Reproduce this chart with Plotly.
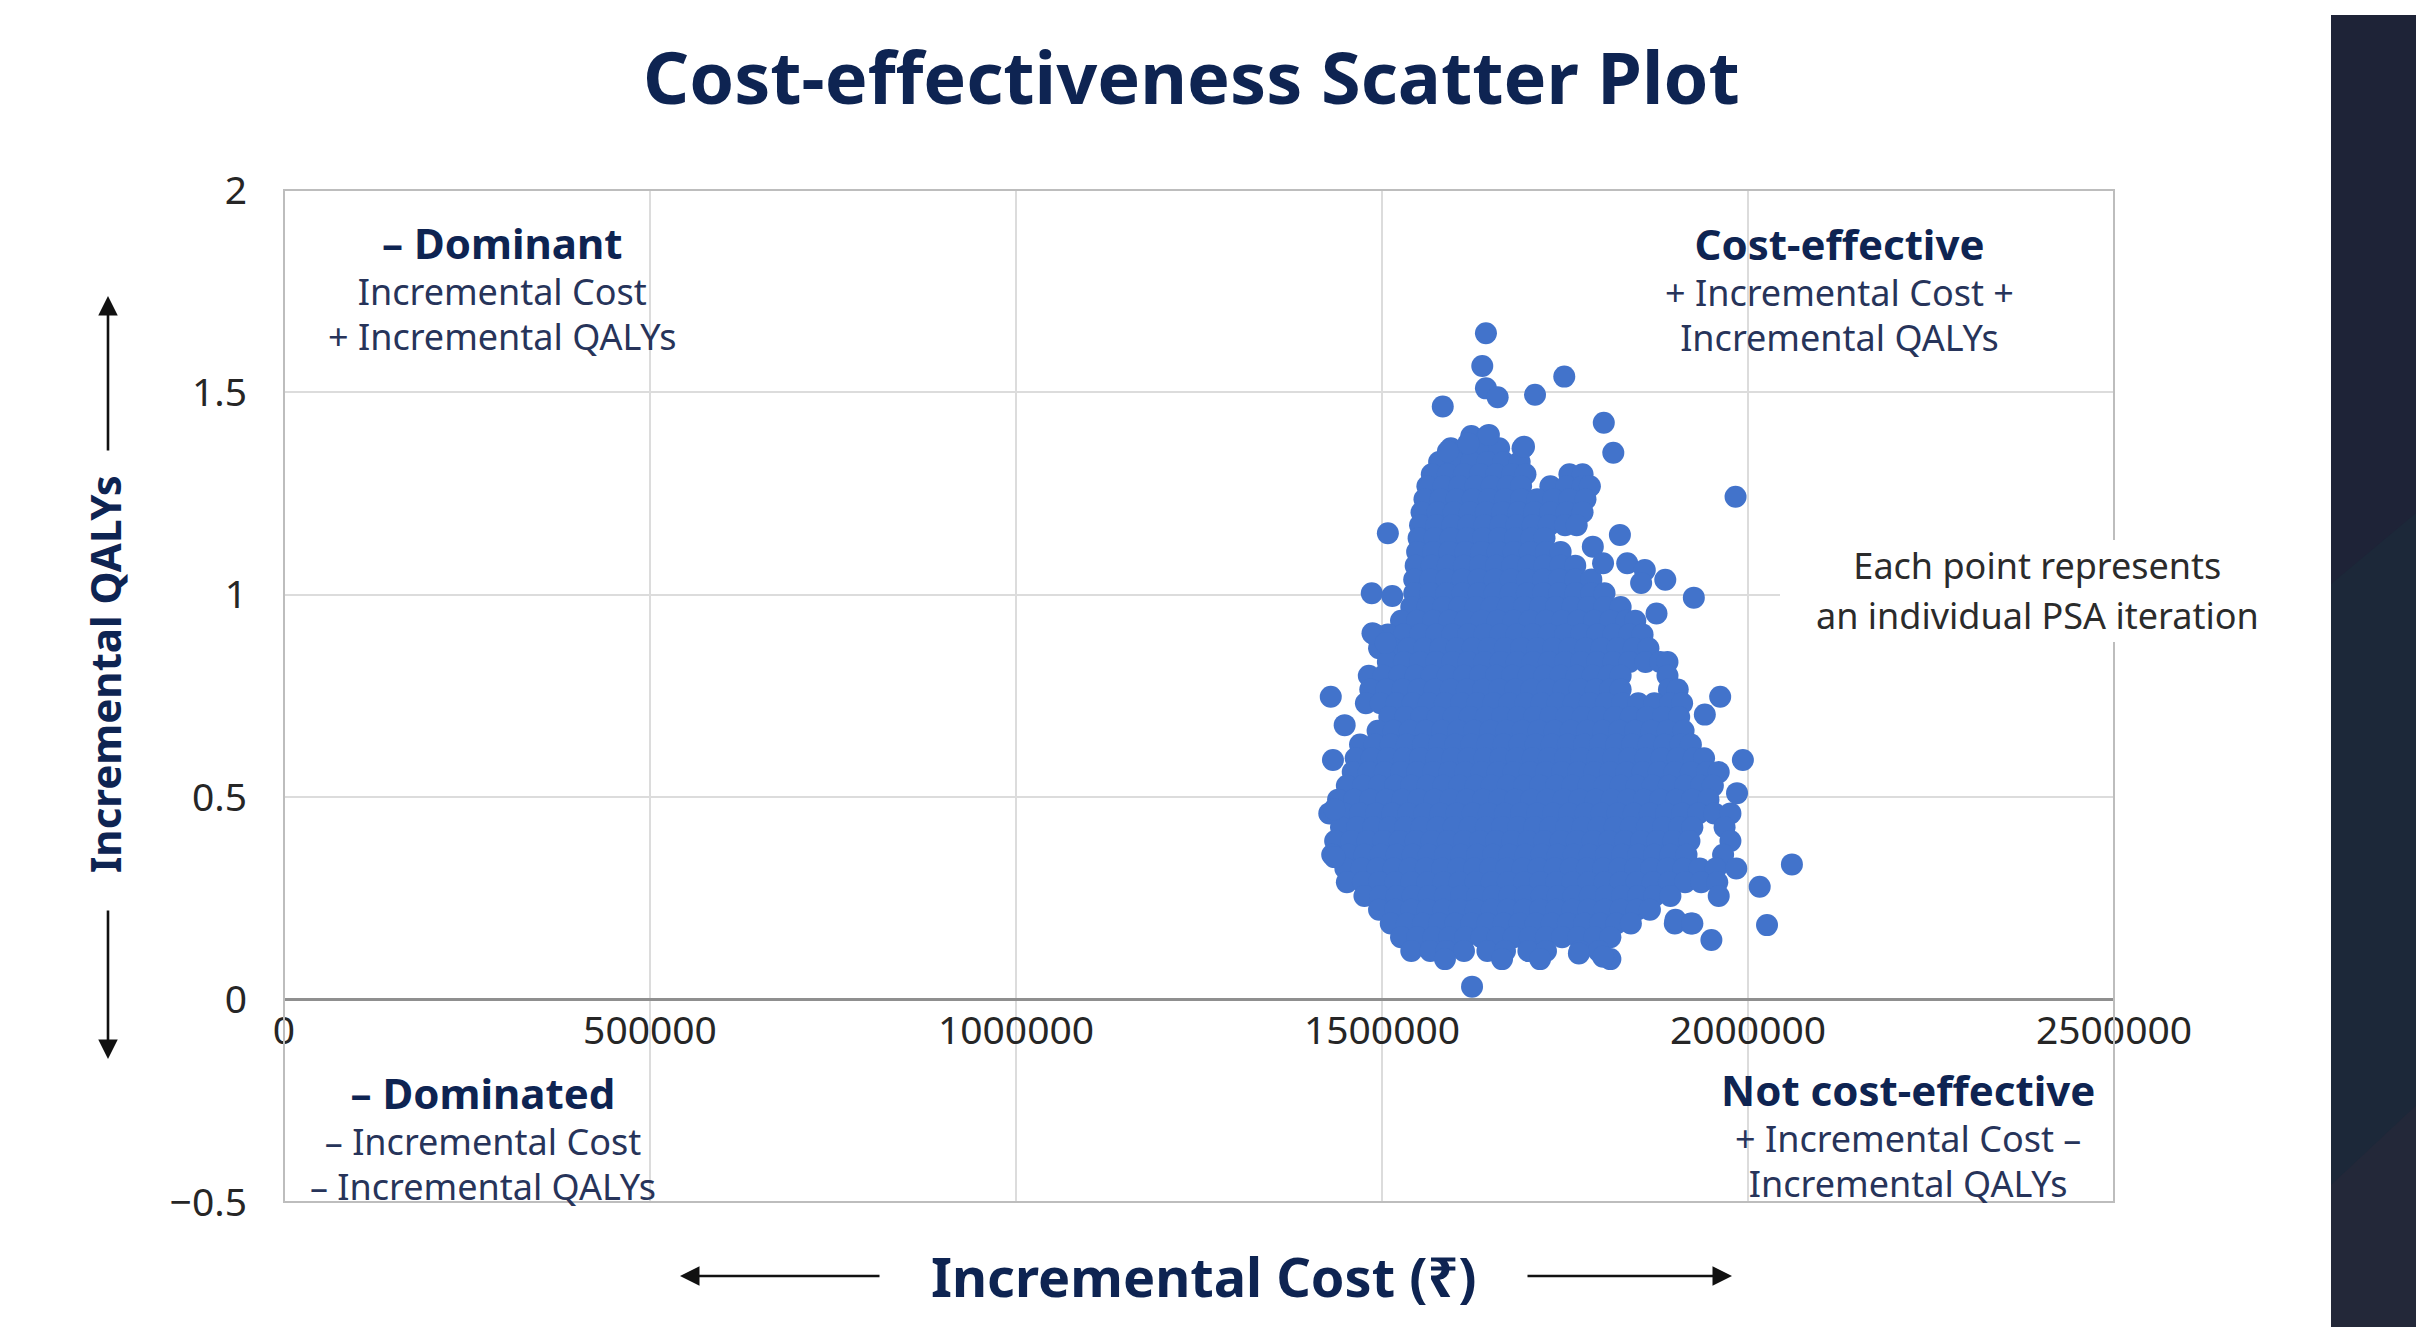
import plotly.graph_objects as go

# ---------------- data ----------------
# PSA iterations, read row by row off the cloud: incremental QALY level of each row
psa_qaly_levels = [
    1.392, 1.362, 1.328, 1.298, 1.268, 1.236, 1.204, 1.172, 1.140, 1.106,
    1.072, 1.038, 1.004, 0.970, 0.936, 0.902, 0.868, 0.834, 0.800, 0.766,
    0.732, 0.698, 0.664, 0.630, 0.596, 0.562, 0.528, 0.494, 0.460, 0.426,
    0.392, 0.358, 0.324, 0.290, 0.256, 0.222, 0.188, 0.154, 0.120, 0.100,
]
# incremental costs (thousand ₹) of the iterations along each of those rows
psa_cost_rows_k = [
    [1622, 1644],
    [1594, 1616, 1638, 1660, 1692],
    [1578, 1600, 1622, 1644, 1666, 1688],
    [1568, 1590, 1612, 1634, 1656, 1678, 1696, 1756, 1774],
    [1562, 1584, 1606, 1628, 1650, 1672, 1690, 1730, 1752, 1774, 1784],
    [1558, 1580, 1602, 1624, 1646, 1668, 1690, 1712, 1734, 1756, 1778],
    [1554, 1576, 1598, 1620, 1642, 1664, 1686, 1708, 1730, 1752, 1774],
    [1552, 1574, 1596, 1618, 1640, 1662, 1684, 1706, 1728, 1750, 1766],
    [1550, 1572, 1594, 1616, 1638, 1660, 1682, 1704, 1722],
    [1548, 1570, 1592, 1614, 1636, 1658, 1680, 1702, 1724, 1744],
    [1546, 1568, 1590, 1612, 1634, 1656, 1678, 1700, 1722, 1744, 1764],
    [1544, 1566, 1588, 1610, 1632, 1654, 1676, 1698, 1720, 1742, 1764, 1786],
    [1544, 1566, 1588, 1610, 1632, 1654, 1676, 1698, 1720, 1742, 1764, 1786, 1804],
    [1540, 1562, 1584, 1606, 1628, 1650, 1672, 1694, 1716, 1738, 1760, 1782, 1804, 1826],
    [1526, 1548, 1570, 1592, 1614, 1636, 1658, 1680, 1702, 1724, 1746, 1768, 1790, 1812, 1834, 1846],
    [1490, 1508, 1530, 1552, 1574, 1596, 1618, 1640, 1662, 1684, 1706, 1728, 1750, 1772, 1794, 1816, 1838, 1856],
    [1496, 1514, 1536, 1558, 1580, 1602, 1624, 1646, 1668, 1690, 1712, 1734, 1756, 1778, 1800, 1822, 1844, 1864],
    [1508, 1530, 1552, 1574, 1596, 1618, 1640, 1662, 1684, 1706, 1728, 1750, 1772, 1794, 1816, 1838, 1860, 1880, 1890],
    [1482, 1502, 1524, 1546, 1568, 1590, 1612, 1634, 1656, 1678, 1700, 1722, 1744, 1766, 1788, 1810, 1826, 1890],
    [1484, 1506, 1528, 1550, 1572, 1594, 1616, 1638, 1660, 1682, 1704, 1726, 1748, 1770, 1792, 1812, 1826, 1892, 1904],
    [1478, 1498, 1520, 1542, 1564, 1586, 1608, 1630, 1652, 1674, 1696, 1718, 1740, 1762, 1784, 1806, 1828, 1850, 1872, 1894, 1910],
    [1510, 1532, 1554, 1576, 1598, 1620, 1642, 1664, 1686, 1708, 1730, 1752, 1774, 1796, 1818, 1840, 1862, 1884, 1906],
    [1494, 1516, 1538, 1560, 1582, 1604, 1626, 1648, 1670, 1692, 1714, 1736, 1758, 1780, 1802, 1824, 1846, 1868, 1890, 1912],
    [1470, 1490, 1512, 1534, 1556, 1578, 1600, 1622, 1644, 1666, 1688, 1710, 1732, 1754, 1776, 1798, 1820, 1842, 1864, 1886, 1908, 1922],
    [1464, 1486, 1508, 1530, 1552, 1574, 1596, 1618, 1640, 1662, 1684, 1706, 1728, 1750, 1772, 1794, 1816, 1838, 1860, 1882, 1904, 1926, 1940],
    [1460, 1482, 1504, 1526, 1548, 1570, 1592, 1614, 1636, 1658, 1680, 1702, 1724, 1746, 1768, 1790, 1812, 1834, 1856, 1878, 1900, 1922, 1944, 1960],
    [1452, 1474, 1496, 1518, 1540, 1562, 1584, 1606, 1628, 1650, 1672, 1694, 1716, 1738, 1760, 1782, 1804, 1826, 1848, 1870, 1892, 1914, 1936, 1952],
    [1440, 1462, 1484, 1506, 1528, 1550, 1572, 1594, 1616, 1638, 1660, 1682, 1704, 1726, 1748, 1770, 1792, 1814, 1836, 1858, 1880, 1902, 1924, 1946],
    [1428, 1448, 1470, 1492, 1514, 1536, 1558, 1580, 1602, 1624, 1646, 1668, 1690, 1712, 1734, 1756, 1778, 1800, 1822, 1844, 1866, 1888, 1910, 1932, 1954, 1976],
    [1444, 1466, 1488, 1510, 1532, 1554, 1576, 1598, 1620, 1642, 1664, 1686, 1708, 1730, 1752, 1774, 1796, 1818, 1840, 1862, 1884, 1906, 1924, 1968],
    [1436, 1458, 1480, 1502, 1524, 1546, 1568, 1590, 1612, 1634, 1656, 1678, 1700, 1722, 1744, 1766, 1788, 1810, 1832, 1854, 1876, 1898, 1920, 1976],
    [1432, 1454, 1476, 1498, 1520, 1542, 1564, 1586, 1608, 1630, 1652, 1674, 1696, 1718, 1740, 1762, 1784, 1806, 1828, 1850, 1872, 1894, 1916, 1966],
    [1450, 1472, 1494, 1516, 1538, 1560, 1582, 1604, 1626, 1648, 1670, 1692, 1714, 1736, 1758, 1780, 1802, 1824, 1846, 1868, 1890, 1912, 1934, 1956, 1984],
    [1452, 1474, 1496, 1518, 1540, 1562, 1584, 1606, 1628, 1650, 1672, 1694, 1716, 1738, 1760, 1782, 1804, 1826, 1848, 1870, 1892, 1914, 1936, 1958],
    [1476, 1498, 1520, 1542, 1564, 1586, 1608, 1630, 1652, 1674, 1696, 1718, 1740, 1762, 1784, 1806, 1828, 1850, 1872, 1894, 1960],
    [1496, 1518, 1540, 1562, 1584, 1606, 1628, 1650, 1672, 1694, 1716, 1738, 1760, 1782, 1804, 1826, 1848, 1866],
    [1512, 1534, 1556, 1578, 1600, 1622, 1644, 1666, 1688, 1710, 1732, 1754, 1776, 1798, 1820, 1840, 1900, 1922],
    [1526, 1548, 1570, 1592, 1614, 1636, 1658, 1680, 1702, 1724, 1746, 1768, 1790, 1812],
    [1540, 1566, 1588, 1612, 1644, 1668, 1700, 1724, 1770, 1796],
    [1586, 1664, 1716, 1812],
]
# scattered iterations around the edge of the cloud
outlier_cost_k = [1642, 1637, 1749, 1642, 1658, 1709, 1583, 1803, 1816, 1983,
                  1508, 1825, 1788, 1926, 1486, 1514, 1875, 1887, 1802, 1835,
                  1859, 1854, 1430, 1449, 1433, 1435, 1435, 1962, 1941, 1985,
                  1993, 2060, 2026, 2016, 1950, 1901, 1924, 1623, 1802, 1769,
                  1487, 1505, 1590, 1618, 1646, 1694]
outlier_qaly = [1.646, 1.565, 1.539, 1.510, 1.488, 1.494, 1.465, 1.425, 1.351, 1.242,
                1.152, 1.148, 1.119, 0.993, 1.004, 0.997, 0.954, 1.037, 1.078, 1.078,
                1.061, 1.029, 0.748, 0.678, 0.592, 0.470, 0.352, 0.748, 0.704, 0.510,
                0.592, 0.334, 0.184, 0.279, 0.147, 0.197, 0.188, 0.032, 0.106, 0.114,
                0.905, 0.881, 1.354, 1.374, 1.395, 1.366]

x_ticks = [0, 500000, 1000000, 1500000, 2000000, 2500000]
y_ticks = [-0.5, 0, 0.5, 1, 1.5, 2]
x_range = [0, 2500000]
y_range = [-0.5, 2]

cost, qaly = [], []
for q, row in zip(psa_qaly_levels, psa_cost_rows_k):
    for c in row:
        cost.append(c * 1000)
        qaly.append(q)
cost += [c * 1000 for c in outlier_cost_k]
qaly += outlier_qaly

# ---------------- layout helpers ----------------
W, H = 2416, 1327
ML, MR, MT, MB = 284, 302, 190, 125
PW, PH = W - ML - MR, H - MT - MB


def px(x):
    return (x - ML) / PW


def py(y):
    return (H - MB - y) / PH


FONT = "Noto Sans"
NAVY = "#0e2452"
SUB = "#27345a"
DOT = "#4273CB"

fig = go.Figure()
fig.add_trace(go.Scatter(
    x=cost, y=qaly, mode="markers",
    marker=dict(size=22, color=DOT, line=dict(width=0)),
    hoverinfo="skip", showlegend=False,
))

zero_pos = (0 - y_range[0]) / (y_range[1] - y_range[0])

fig.update_layout(
    width=W, height=H,
    margin=dict(l=ML, r=MR, t=MT, b=MB, autoexpand=False),
    paper_bgcolor="white", plot_bgcolor="white",
    font=dict(family=FONT, color="#262626"),
    hovermode=False,
    xaxis=dict(
        range=x_range, tickvals=x_ticks, tickformat="d",
        showgrid=True, gridcolor="#dcdcdc", gridwidth=2,
        zeroline=False, showline=False, ticks="",
        anchor="free", position=zero_pos,
        tickfont=dict(size=39, color="#262626", family=FONT),
        ticklabelstandoff=4, fixedrange=True,
    ),
    yaxis=dict(
        range=y_range, tickvals=y_ticks,
        showgrid=True, gridcolor="#dcdcdc", gridwidth=2,
        zeroline=True, zerolinecolor="#8f8f8f", zerolinewidth=3,
        showline=False, ticks="",
        tickfont=dict(size=39, color="#262626", family=FONT),
        ticklabelstandoff=36, fixedrange=True,
    ),
)

shapes = [
    # plot frame
    dict(type="rect", xref="paper", yref="paper", x0=0, x1=1, y0=0, y1=1,
         line=dict(color="#bdbdbd", width=2), fillcolor="rgba(0,0,0,0)", layer="above"),
    # white box behind the note
    dict(type="rect", xref="paper", yref="paper", x0=px(1780), x1=px(2294), y0=py(642), y1=py(540),
         line=dict(width=0), fillcolor="white", layer="above"),
    # dark side panel on the right (base)
    dict(type="rect", xref="paper", yref="paper", x0=px(2331), x1=px(2422), y0=py(1330), y1=py(15),
         line=dict(width=0), fillcolor="#1c2839", layer="above"),
]
panel_bands = [
    ([(2331, 15), (2422, 15), (2422, 508), (2331, 584)], "#1e2337"),
    ([(2331, 1185), (2422, 1100), (2422, 1330), (2331, 1330)], "#232839"),
]
for pts, col in panel_bands:
    path = "M " + " L ".join(f"{px(a):.5f},{py(b):.5f}" for a, b in pts) + " Z"
    shapes.append(dict(type="path", xref="paper", yref="paper", path=path,
                       fillcolor=col, line=dict(width=0), layer="above"))
fig.update_layout(shapes=shapes)

ann = []


def text(t, x, y, size, color, angle=0):
    ann.append(dict(text=t, x=px(x), y=py(y), xref="paper", yref="paper",
                    xanchor="center", yanchor="middle", showarrow=False,
                    textangle=angle, font=dict(family=FONT, size=size, color=color)))


def arrow(hx, hy, tx, ty):
    ann.append(dict(text="", x=px(hx), y=py(hy), xref="paper", yref="paper",
                    ax=tx - hx, ay=ty - hy, showarrow=True, arrowhead=2,
                    arrowsize=1.5, arrowwidth=2.6, arrowcolor="#111111", standoff=0))


def block(head, lines, x, y):
    """Quadrant label: bold heading over two plain lines, one text block."""
    t = (f'<span style="font-size:42px;color:{NAVY}"><b>{head}</b></span><br>'
         + "<br>".join(f'<span style="font-size:36px">{l}</span>' for l in lines))
    text(t, x, y, 35, SUB)


text("<b>Cost-effectiveness Scatter Plot</b>", 1191, 76, 72, NAVY)
text("<b>Incremental QALYs</b>", 104, 674, 42, NAVY, angle=-90)
text("<b>Incremental Cost (₹)</b>", 1204, 1276, 54, NAVY)

arrow(108, 296, 108, 452)
arrow(108, 1059, 108, 909)
arrow(680, 1276, 881, 1276)
arrow(1732, 1276, 1526, 1276)

block("– Dominant", ["Incremental Cost", "+ Incremental QALYs"], 502, 287)
block("Cost-effective", ["+ Incremental Cost +", "Incremental QALYs"], 1839, 288)
block("– Dominated", ["– Incremental Cost", "– Incremental QALYs"], 483, 1137)
block("Not cost-effective", ["+ Incremental Cost –", "Incremental QALYs"], 1908, 1134)

text('<span style="font-size:36px">Each point represents</span><br>'
     '<span style="font-size:36px">an individual PSA iteration</span>',
     2037, 590, 38.5, "#2b2b2b")

fig.update_layout(annotations=ann)

fig.write_html(
    "out.html",
    config={"displayModeBar": False},
    post_script="document.body.style.margin='0';document.body.style.overflow='hidden';",
)
